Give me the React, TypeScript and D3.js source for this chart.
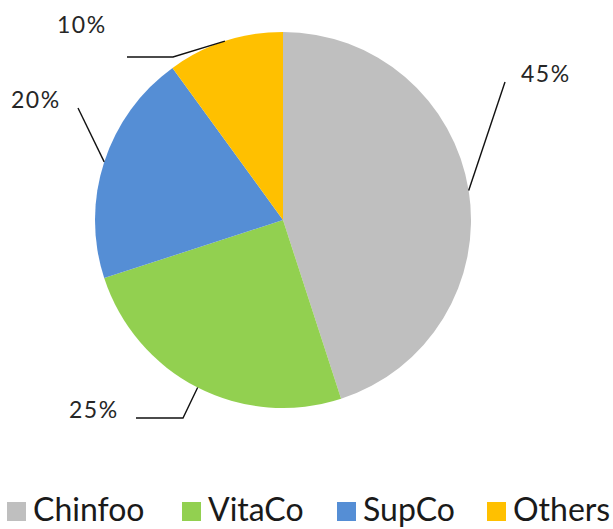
import * as d3 from 'd3';
import React, { useEffect, useRef } from 'react';

const categories = ['Chinfoo', 'VitaCo', 'SupCo', 'Others'];
const shares = [45, 25, 20, 10];
const colors = ['#BFBFBF', '#92D050', '#558ED5', '#FFC000'];

// leader line elbows + label anchors (layout only)
const leaderLayout = [
  { elbow: [505, 82], end: null, label: [521, 82] },
  { elbow: [183, 418], end: [136, 418], label: [69, 418] },
  { elbow: [78, 108], end: null, label: [11, 108] },
  { elbow: [173, 57], end: [127, 57], label: [57, 33] },
];

const App: React.FC = () => {
  const svgRef = useRef<SVGSVGElement | null>(null);

  useEffect(() => {
    const width = 613;
    const height = 529;
    const cx = 283;
    const cy = 220;
    const r = 188;
    const font = 'Lato, "Open Sans", sans-serif';

    const svg = d3.select(svgRef.current);
    svg.selectAll('*').remove();
    svg.attr('width', width).attr('height', height).attr('viewBox', `0 0 ${width} ${height}`);

    svg.append('rect').attr('width', width).attr('height', height).attr('fill', '#fff');

    const pie = d3.pie<number>().sort(null).value((d) => d);
    const arcs = pie(shares);
    const arc = d3.arc<d3.PieArcDatum<number>>().innerRadius(0).outerRadius(r);

    const g = svg.append('g').attr('transform', `translate(${cx},${cy})`);
    g.selectAll('path')
      .data(arcs)
      .join('path')
      .attr('d', arc)
      .attr('fill', (_, i) => colors[i]);

    // leader lines
    arcs.forEach((a, i) => {
      const mid = (a.startAngle + a.endAngle) / 2;
      const sx = cx + r * Math.sin(mid);
      const sy = cy - r * Math.cos(mid);
      const lay = leaderLayout[i];
      const pts: [number, number][] = [[sx, sy], lay.elbow as [number, number]];
      if (lay.end) pts.push(lay.end as [number, number]);
      svg
        .append('path')
        .attr('d', d3.line()(pts))
        .attr('fill', 'none')
        .attr('stroke', '#111')
        .attr('stroke-width', 1.4);
      svg
        .append('text')
        .attr('x', lay.label[0])
        .attr('y', lay.label[1])
        .attr('font-family', font)
        .attr('font-size', 23)
        .attr('letter-spacing', 1.5)
        .attr('fill', '#262626')
        .text(`${shares[i]}%`);
    });

    // legend
    const legendX = [7, 182, 337, 487];
    const lg = svg.append('g');
    categories.forEach((c, i) => {
      lg.append('rect')
        .attr('x', legendX[i])
        .attr('y', 502)
        .attr('width', 19)
        .attr('height', 19)
        .attr('fill', colors[i]);
      lg.append('text')
        .attr('x', legendX[i] + 26)
        .attr('y', 521)
        .attr('font-family', font)
        .attr('font-size', 32)
        .attr('fill', '#1a1a1a')
        .text(c);
    });
  }, []);

  return (
    <div style={{ position: 'fixed', left: 0, top: 0 }}>
      <svg ref={svgRef}></svg>
    </div>
  );
};

export default App;
